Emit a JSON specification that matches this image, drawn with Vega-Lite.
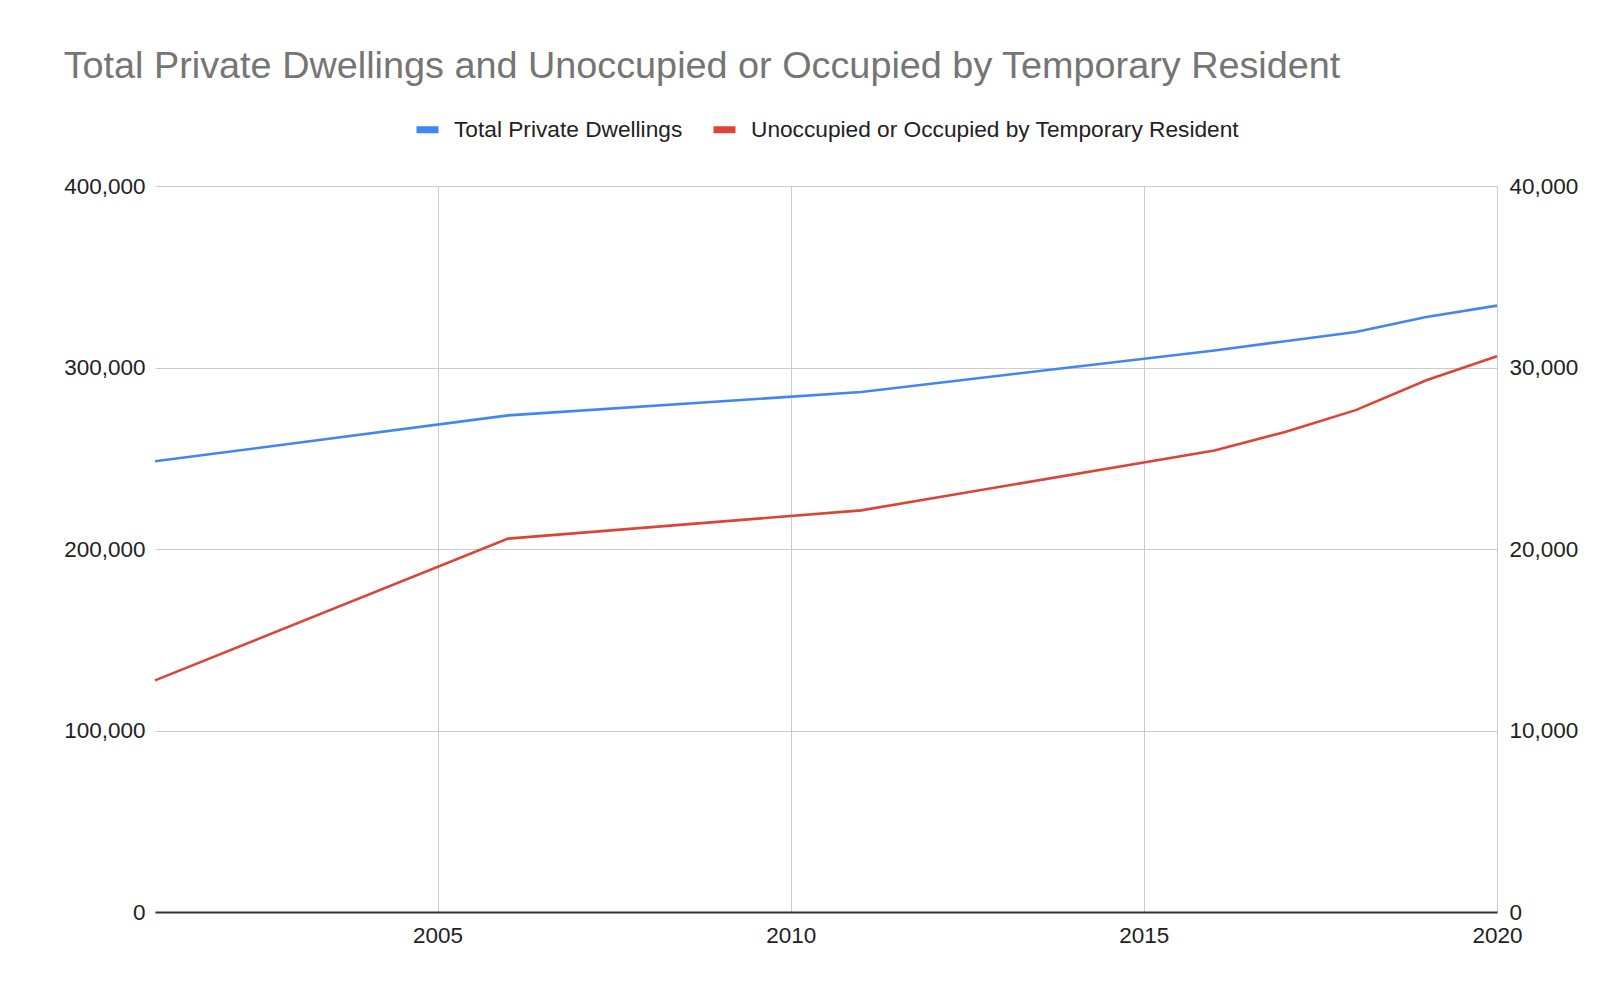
{
  "$schema": "https://vega.github.io/schema/vega-lite/v6.json",
  "width": 1342,
  "height": 726,
  "padding": {"left": 63, "top": 48, "right": 30, "bottom": 20},
  "background": "white",
  "title": {
    "text": "Total Private Dwellings and Unoccupied or Occupied by Temporary Resident",
    "anchor": "start",
    "frame": "bounds",
    "font": "Liberation Sans",
    "fontSize": 37.8,
    "fontWeight": "normal",
    "color": "#757575",
    "offset": 29
  },
  "data": {
    "values": [
      {"year": 2001, "total": 248300, "unocc": 12760},
      {"year": 2006, "total": 273600, "unocc": 20570},
      {"year": 2011, "total": 286500, "unocc": 22130},
      {"year": 2016, "total": 309400, "unocc": 25430},
      {"year": 2017, "total": 314500, "unocc": 26450},
      {"year": 2018, "total": 319600, "unocc": 27650},
      {"year": 2019, "total": 327800, "unocc": 29300},
      {"year": 2020, "total": 334100, "unocc": 30620}
    ]
  },
  "encoding": {
    "x": {
      "field": "year",
      "type": "quantitative",
      "title": null,
      "scale": {"domain": [2001, 2020], "nice": false, "zero": false},
      "axis": {
        "values": [2005, 2010, 2015, 2020],
        "format": "d",
        "grid": true,
        "gridColor": "#cccccc",
        "gridWidth": 1,
        "ticks": false,
        "domain": true,
        "domainColor": "#333333",
        "domainWidth": 2,
        "labelFont": "Liberation Sans",
        "labelFontSize": 22.5,
        "labelColor": "#222222",
        "labelPadding": 12,
        "labelFlush": false
      }
    }
  },
  "layer": [
    {
      "mark": {"type": "line", "strokeWidth": 2.6, "clip": false},
      "encoding": {
        "y": {
          "field": "total",
          "type": "quantitative",
          "title": null,
          "scale": {"domain": [0, 400000], "nice": false},
          "axis": {
            "orient": "left",
            "values": [0, 100000, 200000, 300000, 400000],
            "format": ",d",
            "grid": true,
            "gridColor": "#cccccc",
            "gridWidth": 1,
            "ticks": false,
            "domain": false,
            "labelFont": "Liberation Sans",
            "labelFontSize": 22.5,
            "labelColor": "#222222",
            "labelPadding": 10
          }
        },
        "color": {
          "datum": "Total Private Dwellings",
          "type": "nominal",
          "scale": {
            "domain": ["Total Private Dwellings", "Unoccupied or Occupied by Temporary Resident"],
            "range": ["#4285f4", "#db4437"]
          },
          "legend": {
            "title": null,
            "orient": "top",
            "direction": "horizontal",
            "symbolType": "stroke",
            "symbolSize": 484,
            "symbolStrokeWidth": 7,
            "labelFont": "Liberation Sans",
            "labelFontSize": 22.7,
            "labelColor": "#222222",
            "labelOffset": 12,
            "columnPadding": 16,
            "labelLimit": 0,
            "offset": 42
          }
        }
      }
    },
    {
      "mark": {"type": "line", "strokeWidth": 2.6, "clip": false},
      "encoding": {
        "y": {
          "field": "unocc",
          "type": "quantitative",
          "title": null,
          "scale": {"domain": [0, 40000], "nice": false},
          "axis": {
            "orient": "right",
            "values": [0, 10000, 20000, 30000, 40000],
            "format": ",d",
            "grid": false,
            "ticks": false,
            "domain": false,
            "labelFont": "Liberation Sans",
            "labelFontSize": 22.5,
            "labelColor": "#222222",
            "labelPadding": 12
          }
        },
        "color": {
          "datum": "Unoccupied or Occupied by Temporary Resident",
          "type": "nominal"
        }
      }
    }
  ],
  "resolve": {"scale": {"y": "independent"}},
  "config": {
    "view": {"stroke": null},
    "legend": {"layout": {"top": {"anchor": "middle"}}}
  }
}
